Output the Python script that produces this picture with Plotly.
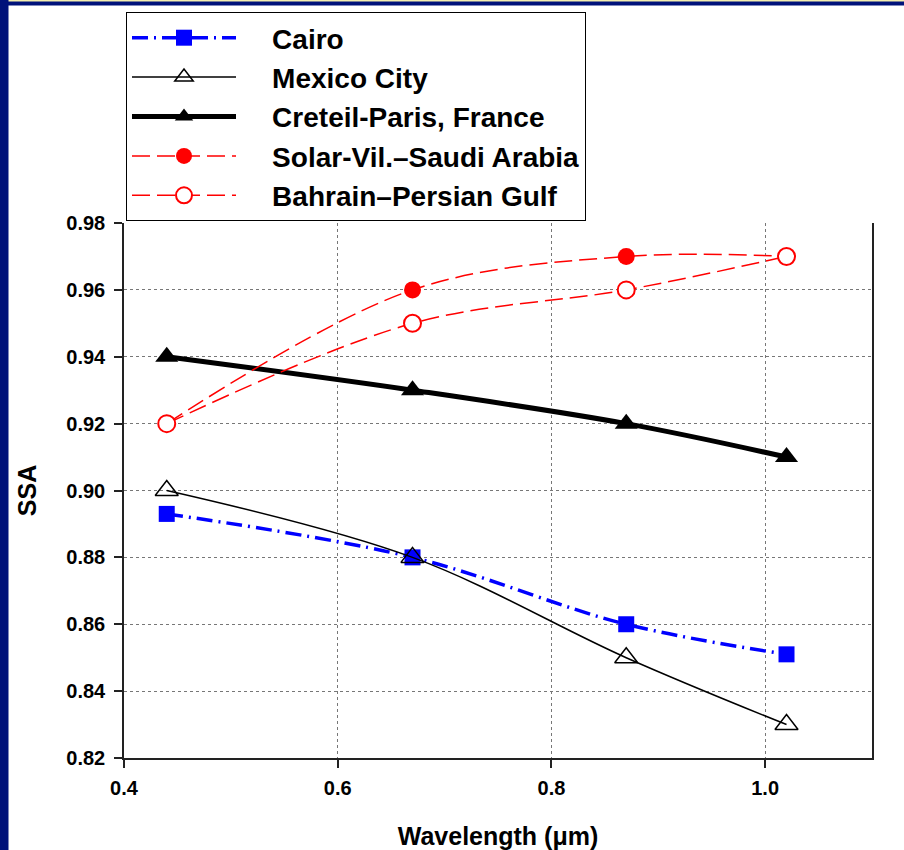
import plotly.graph_objects as go

# Single-scattering albedo versus wavelength at five sites
wavelength = [0.44, 0.67, 0.87, 1.02]
cairo = [0.893, 0.880, 0.860, 0.851]
mexico_city = [0.90, 0.88, 0.85, 0.83]
creteil_paris = [0.94, 0.93, 0.92, 0.91]
solar_village = [0.92, 0.96, 0.97, 0.97]
bahrain = [0.92, 0.95, 0.96, 0.97]

site_names = ["Cairo", "Mexico City", "Creteil-Paris, France",
              "Solar-Vil.\u2013Saudi Arabia", "Bahrain\u2013Persian Gulf"]

x_ticks = [0.4, 0.6, 0.8, 1.0]
y_ticks = [0.82, 0.84, 0.86, 0.88, 0.90, 0.92, 0.94, 0.96, 0.98]

W, H = 904, 850
L, R, T, B = 124, 32, 223, 92
pw, ph = W - L - R, H - T - B

FONT = "Arial, Liberation Sans, sans-serif"
NAVY = "#00127a"
PAD = "\u00a0" * 4  # gap between legend glyph and label


def label(i):
    return PAD + site_names[i]


fig = go.Figure()

fig.add_trace(go.Scatter(
    x=wavelength, y=cairo, name=label(0), mode="lines+markers",
    line=dict(color="#0000ff", width=3.5, dash="16px,6px,2px,6px", shape="spline"),
    marker=dict(symbol="square", size=16, color="#0000ff"),
))
fig.add_trace(go.Scatter(
    x=wavelength, y=mexico_city, name=label(1), mode="lines+markers",
    line=dict(color="black", width=1.5, shape="spline"),
    marker=dict(symbol="triangle-up-open", size=20, color="black", line=dict(width=1.5)),
))
fig.add_trace(go.Scatter(
    x=wavelength, y=creteil_paris, name=label(2), mode="lines+markers",
    line=dict(color="black", width=5, shape="spline"),
    marker=dict(symbol="triangle-up", size=20, color="black"),
))
fig.add_trace(go.Scatter(
    x=wavelength, y=solar_village, name=label(3), mode="lines+markers",
    line=dict(color="#ff0000", width=1.5, dash="18px,7px", shape="spline"),
    marker=dict(symbol="circle", size=17, color="#ff0000"),
))
fig.add_trace(go.Scatter(
    x=wavelength, y=bahrain, name=label(4), mode="lines+markers",
    line=dict(color="#ff0000", width=1.5, dash="18px,7px", shape="spline"),
    marker=dict(symbol="circle", size=17, color="white", line=dict(color="#ff0000", width=2)),
))


def px_x(px):
    return (px - L) / pw


def px_y(py):
    return (H - B - py) / ph


# Frame bands along the left and top edges of the page
shapes = [
    dict(type="rect", xref="paper", yref="paper", x0=px_x(0), x1=px_x(8.5),
         y0=px_y(H), y1=px_y(0), fillcolor=NAVY, line=dict(width=0), layer="above"),
    dict(type="rect", xref="paper", yref="paper", x0=px_x(0), x1=px_x(W),
         y0=px_y(5.5), y1=px_y(0), fillcolor=NAVY, line=dict(width=0), layer="above"),
    dict(type="rect", xref="paper", yref="paper", x0=px_x(8.5), x1=px_x(W),
         y0=px_y(1.5), y1=px_y(0), fillcolor="#f4eeb0", line=dict(width=0), layer="above"),
]

fig.update_layout(
    width=W, height=H,
    margin=dict(l=L, r=R, t=T, b=B, pad=0, autoexpand=False),
    paper_bgcolor="white", plot_bgcolor="white",
    font=dict(family=FONT, color="black"),
    shapes=shapes,
    showlegend=True,
    legend=dict(
        x=px_x(126), y=px_y(12), xanchor="left", yanchor="top",
        bgcolor="white", bordercolor="black", borderwidth=1,
        font=dict(family=FONT, size=28, weight="bold"),
        itemwidth=104, tracegroupgap=0,
    ),
    xaxis=dict(
        range=[0.4, 1.1], tickvals=x_ticks, tickformat=".1f",
        ticks="outside", ticklen=8, tickwidth=1.5, tickcolor="#222",
        showline=True, linecolor="#222", linewidth=1.5, mirror=False,
        showgrid=True, gridcolor="#777", griddash="dot", gridwidth=1,
        zeroline=False, ticklabelstandoff=3, automargin=False,
        tickfont=dict(family=FONT, size=20, weight="bold"),
        title=dict(text="Wavelength (\u03bcm)", standoff=32,
                   font=dict(family=FONT, size=25, weight="bold")),
    ),
    yaxis=dict(
        range=[0.82, 0.98], tickvals=y_ticks, tickformat=".2f",
        ticks="outside", ticklen=8, tickwidth=1.5, tickcolor="#222",
        showline=True, linecolor="#222", linewidth=1.5, mirror=True,
        showgrid=True, gridcolor="#777", griddash="dot", gridwidth=1,
        zeroline=False, ticklabelstandoff=5, automargin=False,
        tickfont=dict(family=FONT, size=20, weight="bold"),
        title=dict(text="SSA", standoff=23,
                   font=dict(family=FONT, size=25, weight="bold")),
    ),
)

fig.write_html("out.html")
